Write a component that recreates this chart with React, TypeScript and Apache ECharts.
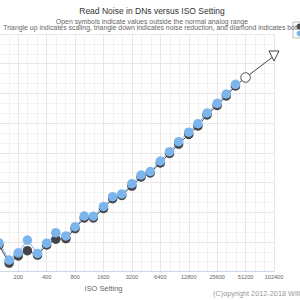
import React, { useEffect, useRef } from "react";
import * as echarts from "echarts";

// ISO settings (1/3 stop steps) shown with filled markers
const isoSettings = [125, 160, 200, 250, 320, 400, 500, 640, 800, 1000, 1250, 1600, 2000, 2500, 3200, 4000, 5000, 6400, 8000, 10000, 12800, 16000, 20000, 25600, 32000, 40000];
// Read noise in DN (light blue series, drawn on top)
const blueNoise = [1.95, 1.31, 1.55, 2.09, 1.53, 1.94, 2.48, 2.3, 2.85, 3.66, 3.64, 4.57, 5.74, 6.12, 7.78, 9.53, 10.34, 13.21, 16.42, 20.73, 25.88, 31.56, 40.5, 50.8, 63.1, 79.1];
// Read noise in DN (dark series)
const darkNoise = [1.86, 1.22, 1.44, 1.63, 1.47, 1.86, 2.13, 2.16, 2.73, 3.5, 3.5, 4.36, 5.48, 5.91, 7.37, 9.1, 9.99, 12.61, 15.74, 19.64, 24.53, 29.9, 38.67, 48.26, 60.24, 76.06];
// Values outside the normal analog range (open symbols)
const openIso = [51200, 102400];
const openNoise = [92.7, 153.2];
const openSymbols = ["circle", "triangle"]; // triangle pointing down = noise reduction
// X tick labels
const xTickLabels = ["200", "400", "800", "1600", "3200", "6400", "12800", "25600", "51200", "102400"];

const titleText = "Read Noise in DNs versus ISO Setting";
const subLine1 = "Open symbols indicate values outside the normal analog range";
const subLine2 = "Triangle up indicates scaling, triangle down indicates noise reduction, and diamond indicates both";
const copyrightText = "(C)opyright 2012-2018 William J. Claff";

const FONT = "'Liberation Sans', Arial, sans-serif";
const BLUE = "#7cb5ec";
const DARK = "#434348";
const OFF = 70; // chart canvas extends 70px to the left of the visible window

const lx = (iso: number) => Math.log2(iso / 100);
const ly = (n: number) => Math.log2(n);

export default function App() {
  const ref = useRef<HTMLDivElement>(null);

  useEffect(() => {
    if (!ref.current) return;
    const chart = echarts.init(ref.current, undefined, { renderer: "svg" });

    const darkData: any[] = isoSettings.map((iso, i) => [lx(iso), ly(darkNoise[i])]);
    openIso.forEach((iso, i) => {
      darkData.push({
        value: [lx(iso), ly(openNoise[i])],
        symbol: openSymbols[i],
        symbolRotate: openSymbols[i] === "triangle" ? 180 : 0,
        symbolSize: openSymbols[i] === "triangle" ? 10 : 9.5,
        itemStyle: { color: "#ffffff", borderColor: DARK, borderWidth: 1 },
      });
    });
    const blueData = isoSettings.map((iso, i) => [lx(iso), ly(blueNoise[i])]);

    chart.setOption({
      animation: false,
      backgroundColor: "#ffffff",
      title: [
        {
          text: titleText,
          left: 152 + OFF,
          top: 6,
          padding: 0,
          textAlign: "center",
          textStyle: { fontSize: 8.5, fontWeight: "normal", color: "#333333", fontFamily: FONT },
        },
        {
          text: subLine1,
          left: 152 + OFF,
          top: 18,
          padding: 0,
          textAlign: "center",
          textStyle: { fontSize: 6.9, fontWeight: "normal", color: "#666666", fontFamily: FONT },
        },
        {
          text: subLine2,
          left: 152 + OFF,
          top: 23.5,
          padding: 0,
          textAlign: "center",
          textStyle: { fontSize: 6.9, fontWeight: "normal", color: "#666666", fontFamily: FONT },
        },
        {
          text: copyrightText,
          left: 213 + OFF,
          top: 289.5,
          padding: 0,
          textStyle: { fontSize: 7.3, fontWeight: "normal", color: "#999999", fontFamily: FONT },
        },
      ],
      legend: {
        orient: "vertical",
        left: 293 + OFF,
        top: 22,
        padding: [1.5, 3, 1.5, 3.5],
        itemWidth: 6,
        itemHeight: 6,
        itemGap: 1,
        icon: "circle",
        borderColor: "#bbbbbb",
        borderWidth: 1,
        formatter: () => "",
        textStyle: { fontSize: 1 },
        data: ["Camera A", "Camera B"],
      },
      grid: { left: 0, right: 26, top: 34, bottom: 28.4 },
      xAxis: {
        type: "value",
        min: -2,
        max: 10,
        interval: 1,
        name: "ISO Setting",
        nameLocation: "middle",
        nameGap: 11.5,
        nameTextStyle: { fontSize: 7.4, color: "#666666", fontFamily: FONT },
        axisLine: { show: true, lineStyle: { color: "#ccd6eb", width: 1 } },
        axisTick: { show: false },
        axisLabel: {
          fontSize: 5.6,
          color: "#666666",
          fontFamily: FONT,
          margin: 2.5,
          formatter: (v: number) => (v >= 1 ? xTickLabels[Math.round(v) - 1] ?? "" : ""),
        },
        splitLine: { show: true, lineStyle: { color: "#e6e6e6", width: 1 } },
        minorTick: { show: false, splitNumber: 3 },
        minorSplitLine: { show: true, lineStyle: { color: "#f2f2f2", width: 1 } },
      },
      yAxis: {
        type: "value",
        min: 0,
        max: 8,
        interval: 1,
        axisLine: { show: false },
        axisTick: { show: false },
        axisLabel: { show: false },
        splitLine: { show: true, lineStyle: { color: "#e6e6e6", width: 1 } },
        minorTick: { show: false, splitNumber: 3 },
        minorSplitLine: { show: true, lineStyle: { color: "#f2f2f2", width: 1 } },
      },
      series: [
        {
          name: "Camera A",
          type: "line",
          data: darkData,
          symbol: "circle",
          symbolSize: 9.5,
          showAllSymbol: true,
          itemStyle: { color: DARK },
          lineStyle: { color: DARK, width: 1 },
          z: 2,
        },
        {
          name: "Camera B",
          type: "line",
          data: blueData,
          symbol: "circle",
          symbolSize: 9.5,
          showAllSymbol: true,
          itemStyle: { color: BLUE },
          lineStyle: { color: BLUE, width: 1 },
          z: 3,
        },
      ],
    });

    return () => chart.dispose();
  }, []);

  return (
    <div
      ref={ref}
      style={{ position: "absolute", left: -OFF, top: 0, width: 300 + OFF, height: 300 }}
    />
  );
}
